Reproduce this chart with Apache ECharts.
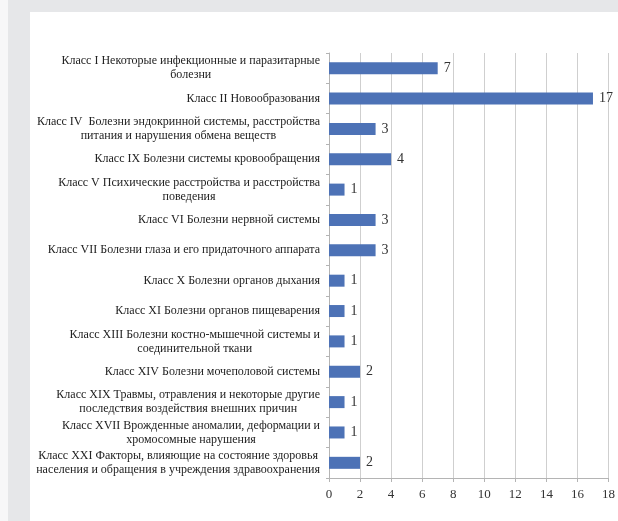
<!DOCTYPE html>
<html>
<head>
<meta charset="utf-8">
<script src="https://cdn.jsdelivr.net/npm/echarts@6/dist/echarts.min.js"></script>
<style>
  html, body { margin: 0; padding: 0; background: #f7f7f8; }
  #frame { position: absolute; left: 8px; top: 0; width: 610px; height: 521px; background: #e6e7e9; }
  #chart { position: absolute; left: 30px; top: 12px; width: 588px; height: 509px; background: #ffffff; }
</style>
</head>
<body>
<div id="frame"></div>
<div id="chart"></div>
<script>
// Число случаев по классам болезней (МКБ-10)
const categories = [
  'Класс I Некоторые инфекционные и паразитарные\nболезни',
  'Класс II Новообразования',
  'Класс IV  Болезни эндокринной системы, расстройства\nпитания и нарушения обмена веществ',
  'Класс IX Болезни системы кровообращения',
  'Класс V Психические расстройства и расстройства\nповедения',
  'Класс VI Болезни нервной системы',
  'Класс VII Болезни глаза и его придаточного аппарата',
  'Класс X Болезни органов дыхания',
  'Класс XI Болезни органов пищеварения',
  'Класс XIII Болезни костно-мышечной системы и\nсоединительной ткани',
  'Класс XIV Болезни мочеполовой системы',
  'Класс XIX Травмы, отравления и некоторые другие\nпоследствия воздействия внешних причин',
  'Класс XVII Врожденные аномалии, деформации и\nхромосомные нарушения',
  'Класс XXI Факторы, влияющие на состояние здоровья\nнаселения и обращения в учреждения здравоохранения'
];
const counts = [7, 17, 3, 4, 1, 3, 3, 1, 1, 1, 2, 1, 1, 2];
const axisMin = 0;
const axisMax = 18;
const axisStep = 2;

const serif = '"Liberation Serif", "DejaVu Serif", serif';

const chart = echarts.init(document.getElementById('chart'));
chart.setOption({
  animation: false,
  grid: { left: 299, right: 9, top: 41, bottom: 43, containLabel: false },
  xAxis: {
    type: 'value',
    min: axisMin,
    max: axisMax,
    interval: axisStep,
    axisLine: { show: true, lineStyle: { color: '#b4b4b4', width: 1 } },
    axisTick: { show: true, length: 4, lineStyle: { color: '#b4b4b4' } },
    splitLine: { show: true, lineStyle: { color: '#cfcfcf', width: 1 } },
    axisLabel: { color: '#333333', fontFamily: serif, fontSize: 13, margin: 10 }
  },
  yAxis: {
    type: 'category',
    inverse: true,
    data: categories,
    axisLine: { show: true, lineStyle: { color: '#b4b4b4', width: 1 } },
    axisTick: { show: true, length: 3, lineStyle: { color: '#b4b4b4' } },
    axisLabel: {
      margin: 9,
      formatter: function (v) {
        return v.split('\n').map(function (s) { return '{c|' + s + '}'; }).join('\n');
      },
      rich: {
        c: { align: 'center', color: '#222222', fontFamily: serif, fontSize: 12, lineHeight: 14 }
      }
    }
  },
  series: [{
    type: 'bar',
    data: counts,
    barWidth: 12,
    itemStyle: { color: '#4d72b6' },
    label: {
      show: true,
      position: 'right',
      distance: 6,
      color: '#333333',
      fontFamily: serif,
      fontSize: 14
    }
  }]
});
</script>
</body>
</html>
